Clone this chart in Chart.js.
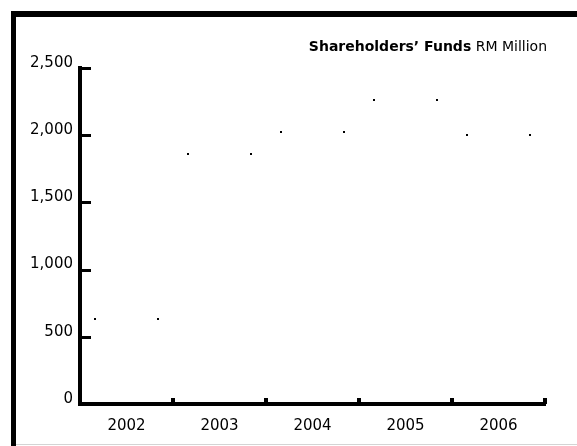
<!DOCTYPE html>
<html>
<head>
<meta charset="utf-8">
<script src="https://cdn.jsdelivr.net/npm/chart.js@4.4.1/dist/chart.umd.min.js"></script>
<style>
  html, body { margin: 0; padding: 0; background: #fff; }
  #wrap { position: relative; width: 577px; height: 446px; overflow: hidden; }
  #frame { position: absolute; left: 11px; top: 11px; width: 566px; height: 435px;
           border-top: 6px solid #000; border-left: 5px solid #000; box-sizing: border-box; }
  #bottomline { position: absolute; left: 16px; top: 444px; width: 561px; height: 1px; background: #d4d4d4; }
  canvas { position: absolute; left: 0; top: 0; }
</style>
</head>
<body>
<div id="wrap">
  <canvas id="c" width="577" height="446"></canvas>
  <div id="frame"></div>
  <div id="bottomline"></div>
</div>
<script>
const categories = ['2002', '2003', '2004', '2005', '2006'];
const shareholdersFunds = [640, 1870, 2030, 2270, 2010];
const yTicks = [0, 500, 1000, 1500, 2000, 2500];
const titleBold = "Shareholders\u2019 Funds";
const titleRegular = " RM Million";

const FONT = 'DejaVu Sans';
const FS_TITLE = 14;
const FS_TICK = 15;

const decorPlugin = {
  id: 'decor',
  afterDatasetsDraw(chart) {
    const ctx = chart.ctx;
    const meta = chart.getDatasetMeta(0);
    ctx.save();
    ctx.fillStyle = '#000';
    meta.data.forEach(bar => {
      const p = bar.getProps(['x', 'y', 'width'], true);
      const l = Math.round(p.x - p.width / 2);
      const r = Math.round(p.x + p.width / 2);
      const t = Math.round(p.y);
      ctx.fillRect(l, t, 2, 2);
      ctx.fillRect(r - 2, t, 2, 2);
    });
    ctx.restore();
  },
  afterDraw(chart) {
    const ctx = chart.ctx;
    const x = chart.scales.x, y = chart.scales.y;
    const area = chart.chartArea;
    ctx.save();
    ctx.fillStyle = '#000';
    yTicks.forEach(v => {
      if (v === 0) return;
      const py = Math.round(y.getPixelForValue(v));
      ctx.fillRect(area.left, py - 1, 11, 3);
    });
    for (let i = 1; i <= categories.length; i++) {
      const px = Math.round(x.getPixelForValue(i - 0.5));
      ctx.fillRect(px - 2, area.bottom - 6, 4, 6);
    }
    ctx.textBaseline = 'alphabetic';
    ctx.font = 'bold ' + FS_TITLE + 'px ' + FONT;
    const wb = ctx.measureText(titleBold).width;
    ctx.font = FS_TITLE + 'px ' + FONT;
    const wr = ctx.measureText(titleRegular).width;
    const right = 547, base = 51;
    const start = right - wb - wr;
    ctx.font = 'bold ' + FS_TITLE + 'px ' + FONT;
    ctx.fillText(titleBold, start, base);
    ctx.font = FS_TITLE + 'px ' + FONT;
    ctx.fillText(titleRegular, start + wb, base);
    ctx.restore();
  }
};

new Chart(document.getElementById('c'), {
  type: 'bar',
  data: {
    labels: categories,
    datasets: [{
      label: 'Shareholders\u2019 Funds',
      data: shareholdersFunds,
      backgroundColor: 'rgba(255,255,255,0)',
      borderWidth: 0,
      barPercentage: 0.7,
      categoryPercentage: 1.0
    }]
  },
  options: {
    responsive: false,
    animation: false,
    devicePixelRatio: 1,
    layout: { padding: { top: 68, right: 32, left: 0, bottom: 0 } },
    plugins: { legend: { display: false }, tooltip: { enabled: false }, title: { display: false } },
    scales: {
      x: {
        offset: true,
        grid: { display: false, drawTicks: false },
        border: { display: true, color: '#000', width: 4 },
        ticks: { color: '#000', font: { family: FONT, size: FS_TICK }, padding: 13, maxRotation: 0 },
        afterFit(s) { s.height = 42; }
      },
      y: {
        min: 0, max: 2500,
        afterBuildTicks(s) { s.ticks = yTicks.map(v => ({ value: v })); },
        grid: { display: false, drawTicks: false },
        border: { display: true, color: '#000', width: 4 },
        ticks: {
          color: '#000', font: { family: FONT, size: FS_TICK }, padding: 7, labelOffset: -5,
          callback: v => Number(v).toLocaleString('en-US')
        },
        afterFit(s) { s.width = 80; }
      }
    }
  },
  plugins: [decorPlugin]
});
</script>
</body>
</html>
